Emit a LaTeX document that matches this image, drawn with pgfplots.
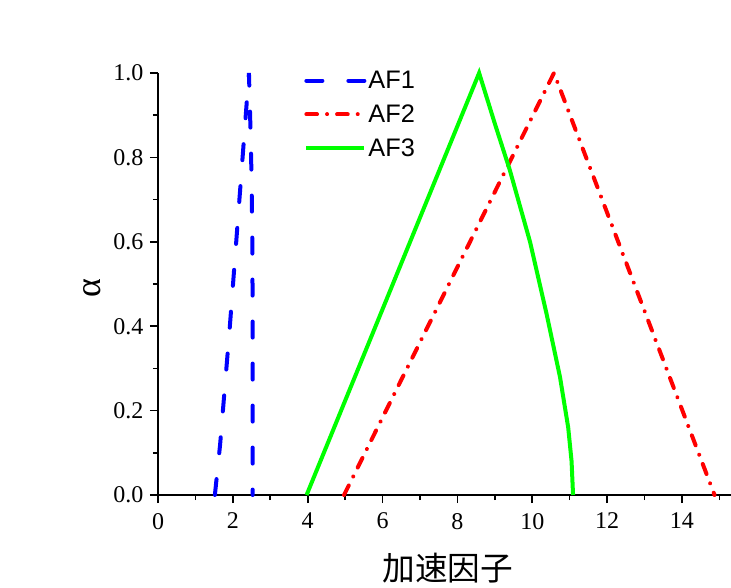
\documentclass[border=0pt]{standalone}
\usepackage{fontspec}
\setmainfont{Liberation Serif}
\newfontfamily\sansAF{Liberation Sans}
\newfontfamily\cjk{Noto Sans CJK SC}
\usepackage{pgfplots}
\pgfplotsset{compat=1.18}
\definecolor{afblue}{RGB}{0,0,255}
\definecolor{afred}{RGB}{255,0,0}
\definecolor{afgreen}{RGB}{0,255,0}
\begin{document}
\begin{tikzpicture}
\useasboundingbox (-118.5pt,-69.75pt) rectangle (429.75pt,371.25pt);
\begin{axis}[
 at={(0,0)}, anchor=south west,
 scale only axis, width=429.75pt, height=316.5pt,
 xmin=0, xmax=15.31, ymin=0, ymax=1.0,
 clip=false,
 axis x line=bottom, axis y line=left,
 axis line style={-, line width=1.2pt},
 xtick={0,2,4,6,8,10,12,14}, minor xtick={1,3,5,7,9,11,13,15},
 ytick={0,0.2,0.4,0.6,0.8,1.0}, minor ytick={0.1,0.3,0.5,0.7,0.9},
 tick align=outside, major tick length=6pt, minor tick length=3.75pt,
 every tick/.style={line width=1.2pt, black},
 /pgf/number format/assume math mode=true,
 ticklabel style={font=\fontsize{18}{18}\selectfont},
 yticklabel style={/pgf/number format/fixed, /pgf/number format/fixed zerofill, /pgf/number format/precision=1, xshift=-1.5pt},
 xticklabel style={/pgf/number format/fixed, yshift=-4pt},
 xlabel={\cjk 加速因子},
 xlabel style={font=\fontsize{24.5}{24.5}\selectfont, at={(axis description cs:0.506,0)}, anchor=center, yshift=-55pt},
 ylabel={α},
 ylabel style={font=\fontsize{27}{27}\selectfont, at={(axis description cs:-0.115,0.49)}, anchor=center},
 legend style={at={(rel axis cs:0.255,1.01)}, anchor=north west, draw=none, fill=none,
   font=\sansAF\fontsize{19}{19}\selectfont, row sep=7.6pt, inner sep=0pt,
   nodes={inner sep=1.5pt}},
 legend cell align=left,
 legend image code/.code={\draw[#1] (0pt,0pt) -- (43.5pt,0pt);},
]
\addplot[afblue, line width=3pt, line cap=round, dash pattern=on 12pt off 19.5pt] coordinates {
 (1.52,0) (1.66,0.12) (1.92,0.40) (2.26,0.80) (2.43,1.0)
 (2.47,0.87) (2.50,0.75) (2.52,0.60) (2.53,0.40) (2.53,0)
};
\addlegendentry{AF1}
\addplot[afred, line width=3pt, line cap=round, dash pattern=on 8pt off 7.5pt on 0.01pt off 7.5pt] coordinates {
 (4.97,0) (10.58,1.0) (14.87,0)
};
\addlegendentry{AF2}
\addplot[afgreen, line width=3pt, line join=miter] coordinates {
 (3.97,0) (8.58,1.0) (9.0,0.88) (9.40,0.77) (9.94,0.60) (10.38,0.43) (10.74,0.28) (10.96,0.16) (11.05,0.08) (11.09,0)
};
\addlegendentry{AF3}
\end{axis}
\end{tikzpicture}
\end{document}
